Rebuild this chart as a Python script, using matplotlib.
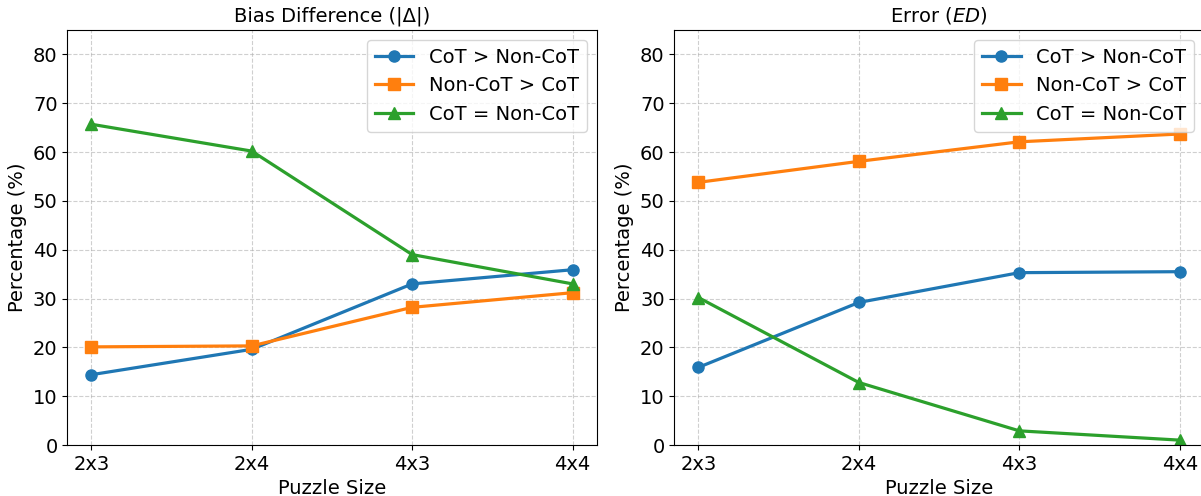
import matplotlib.pyplot as plt

sizes = ['2x3', '2x4', '4x3', '4x4']
labels = ['CoT > Non-CoT', 'Non-CoT > CoT', 'CoT = Non-CoT']

bias_cot_better = [14.4, 19.6, 33.0, 35.9]
bias_noncot_better = [20.1, 20.3, 28.2, 31.2]
bias_equal = [65.7, 60.2, 39.0, 33.0]

err_cot_better = [15.9, 29.2, 35.3, 35.5]
err_noncot_better = [53.8, 58.1, 62.1, 63.7]
err_equal = [30.2, 12.8, 2.9, 1.0]

colors = ['#1f77b4', '#ff7f0e', '#2ca02c']
markers = ['o', 's', '^']

fig = plt.figure(figsize=(12.01, 4.96), dpi=100)
ax1 = fig.add_axes([0.0560, 0.1028, 0.4408, 0.8367])
ax2 = fig.add_axes([0.5615, 0.1028, 0.4408, 0.8367])

panels = [
    (ax1, 'Bias Difference (|Δ|)', [bias_cot_better, bias_noncot_better, bias_equal]),
    (ax2, 'Error ($ED$)', [err_cot_better, err_noncot_better, err_equal]),
]

for ax, title, series in panels:
    for vals, lab, c, m in zip(series, labels, colors, markers):
        ax.plot(sizes, vals, color=c, marker=m, label=lab, linewidth=2.3, markersize=8)
    ax.set_title(title, fontsize=14)
    ax.set_xlabel('Puzzle Size', fontsize=14)
    ax.set_ylabel('Percentage (%)', fontsize=14)
    ax.set_ylim(0, 85)
    ax.tick_params(labelsize=14)
    ax.grid(True, linestyle='--', alpha=0.6)
    ax.legend(loc='upper right', fontsize=14)

plt.savefig('out.png', dpi=100)
